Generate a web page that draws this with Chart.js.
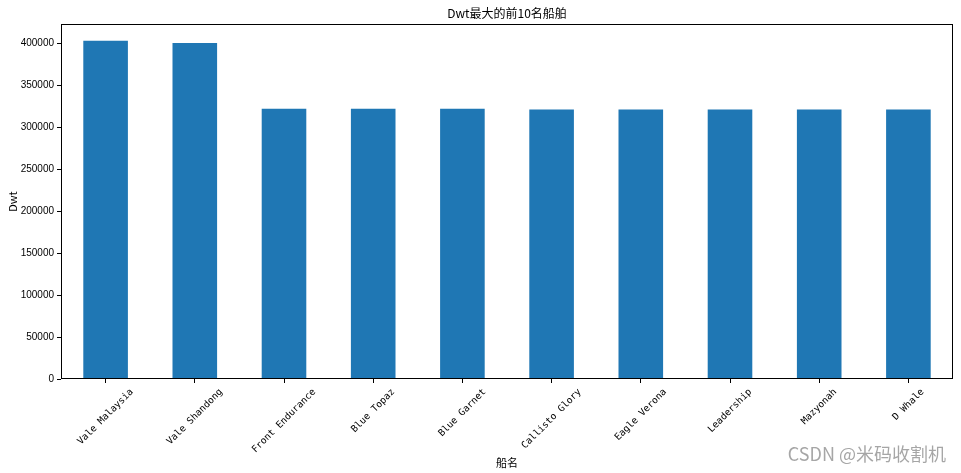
<!DOCTYPE html>
<html>
<head>
<meta charset="utf-8">
<script src="https://cdn.jsdelivr.net/npm/chart.js@4"></script>
<style>
    html, body { margin: 0; padding: 0; background: #fff; }
    #wrap { width: 961px; height: 473px; position: relative; }
</style>
</head>
<body>
<div id="wrap"><canvas id="dwt-chart"></canvas></div>
<script>
(function () {
    'use strict';

    /* ── Data ── */
    var shipNames = [
        'Vale Malaysia', 'Vale Shandong', 'Front Endurance', 'Blue Topaz',
        'Blue Garnet', 'Callisto Glory', 'Eagle Verona', 'Leadership',
        'Mazyonah', 'D Whale'
    ];
    var dwtValues = [
        403000, 400500, 322000, 322000,
        322000, 321000, 321000, 321000,
        321000, 321000
    ];
    var yTicks = [0, 50000, 100000, 150000, 200000, 250000, 300000, 350000, 400000];

    var chartTitle = 'Dwt最大的前10名船舶';
    var xTitle = '船名';
    var yTitle = 'Dwt';
    var watermark = 'CSDN @米码收割机';

    var barBlue = '#1f77b4';

    /* ── Labels, titles and frame drawn matplotlib-style ── */
    var decorations = {
        id: 'decorations',
        afterDraw: function (chart) {
            var ctx = chart.ctx;
            var area = chart.chartArea;
            var xScale = chart.scales.x;

            ctx.save();

            // axes frame
            ctx.strokeStyle = '#000';
            ctx.lineWidth = 1;
            ctx.strokeRect(Math.round(area.left) + 0.5, Math.round(area.top) + 0.5,
                Math.round(area.right - area.left) - 1, Math.round(area.bottom - area.top) - 1);

            // rotated category labels, centred under each tick
            ctx.fillStyle = '#000';
            ctx.font = '9.5px "DejaVu Sans Mono", "Noto Sans CJK SC", monospace';
            ctx.textAlign = 'center';
            ctx.textBaseline = 'middle';
            var h = 10;
            shipNames.forEach(function (name, i) {
                var x = xScale.getPixelForValue(i);
                var w = ctx.measureText(name).width;
                var cy = area.bottom + 8 + (w + h) / (2 * Math.SQRT2);
                ctx.save();
                ctx.translate(x, cy);
                ctx.rotate(-Math.PI / 4);
                ctx.fillText(name, 0, 0);
                ctx.restore();
            });

            // chart title
            ctx.font = '12px "Noto Sans CJK SC", sans-serif';
            ctx.textBaseline = 'alphabetic';
            ctx.fillText(chartTitle, (area.left + area.right) / 2, 18);

            // x axis title
            ctx.font = '11px "Noto Sans CJK SC", sans-serif';
            ctx.textBaseline = 'middle';
            ctx.fillText(xTitle, (area.left + area.right) / 2, 463);

            // y axis title
            ctx.save();
            ctx.translate(13, (area.top + area.bottom) / 2);
            ctx.rotate(-Math.PI / 2);
            ctx.fillText(yTitle, 0, 0);
            ctx.restore();

            // watermark
            ctx.font = '18px "Noto Sans CJK SC", sans-serif';
            ctx.fillStyle = 'rgba(150, 150, 150, 0.85)';
            ctx.textAlign = 'right';
            ctx.fillText(watermark, 946, 454);

            ctx.restore();
        }
    };

    var canvas = document.getElementById('dwt-chart');

    new Chart(canvas, {
        type: 'bar',
        data: {
            labels: shipNames,
            datasets: [{
                label: 'Dwt',
                data: dwtValues,
                backgroundColor: barBlue,
                borderWidth: 0,
                categoryPercentage: 1.0,
                barPercentage: 0.5
            }]
        },
        options: {
            responsive: true,
            maintainAspectRatio: false,
            devicePixelRatio: 1,
            animation: false,
            layout: { padding: { top: 24, right: 8, left: 0, bottom: 0 } },
            plugins: {
                legend: { display: false },
                title: { display: false },
                tooltip: { enabled: false }
            },
            scales: {
                x: {
                    offset: true,
                    border: { display: false },
                    grid: {
                        offset: false,
                        drawOnChartArea: false,
                        drawTicks: true,
                        tickLength: 4,
                        tickColor: '#000'
                    },
                    ticks: { display: false },
                    afterFit: function (scale) { scale.height = 94; }
                },
                y: {
                    min: 0,
                    max: 423000,
                    border: { display: false },
                    grid: {
                        drawOnChartArea: false,
                        drawTicks: true,
                        tickLength: 4,
                        tickColor: '#000'
                    },
                    afterBuildTicks: function (scale) {
                        scale.ticks = yTicks.map(function (v) { return { value: v }; });
                    },
                    ticks: {
                        color: '#000',
                        padding: 3,
                        font: { family: '"Liberation Sans", Arial, sans-serif', size: 10 },
                        callback: function (v) { return String(v); }
                    },
                    afterFit: function (scale) { scale.width = 61; }
                }
            }
        },
        plugins: [decorations]
    });
})();
</script>
</body>
</html>
